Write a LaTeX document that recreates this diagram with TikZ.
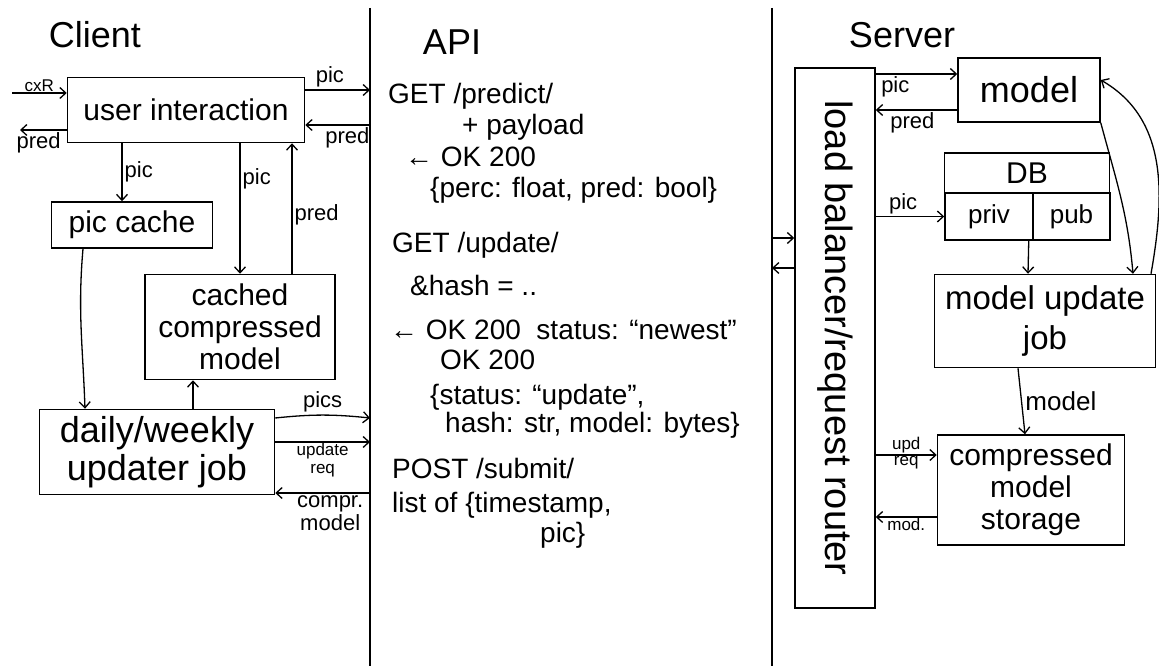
\documentclass[tikz,border=0pt]{standalone}
\usepackage{fontspec}
\setmainfont{Liberation Sans}
\usetikzlibrary{arrows.meta,positioning,calc}

\newcommand{\titlesize}{\fontsize{36}{38}\selectfont}
\newcommand{\boxsize}{\fontsize{30}{32}\selectfont}
\newcommand{\bigboxsize}{\fontsize{36}{38}\selectfont}
\newcommand{\midsize}{\fontsize{26}{28}\selectfont}
\newcommand{\apisize}{\fontsize{28}{30}\selectfont}
\newcommand{\labsize}{\fontsize{22}{23}\selectfont}
\newcommand{\smallsize}{\fontsize{17}{18}\selectfont}

\begin{document}
\begin{tikzpicture}[x=1pt, y=-1pt, >={Straight Barb[length=6pt, width=11pt]}]
    \tikzstyle{block} = [rectangle, draw, line width=1.5pt, align=center, inner sep=2pt, font=\boxsize]
    \tikzstyle{lab} = [font=\labsize, inner sep=2pt]
    \tikzstyle{slab} = [font=\smallsize, inner sep=1pt, align=center]
    \tikzstyle{api} = [anchor=west, font=\apisize, inner sep=0pt]
    \tikzstyle{title} = [font=\titlesize]
    \tikzstyle{flow} = [->, line width=1.3pt]

    \useasboundingbox (0,0) rectangle (1159,666);

    % Dividers
    \coordinate (divA) at (370,8);
    \coordinate (divAend) at (370,666);
    \coordinate (divB) at (772,8);
    \coordinate (divBend) at (772,666);
    \draw[line width=2pt] (divA) -- (divAend);
    \draw[line width=2pt] (divB) -- (divBend);

    % Titles
    \node[title] (client) at (95,35) {Client};
    \node[title] (api) at (452,42) {API};
    \node[title] (server) at (902,35) {Server};

    % Client
    \node[block, minimum width=237pt, minimum height=65pt] (ui) at (186,110) {user interaction};
    \node[block, minimum width=161pt, minimum height=46pt] (cache) at (132,225) {pic cache};
    \node[block, minimum width=190pt, minimum height=105pt] (ccm) at (240,327) {cached\\compressed\\model};
    \node[block, font=\bigboxsize, minimum width=235pt, minimum height=85pt] (updater) at (157,452) {daily/weekly\\updater job};

    \coordinate (cxr) at (12,93);
    \coordinate (predl) at (20,130);
    \coordinate (rpic) at (0,90);
    \coordinate (rpred) at (0,125);
    \coordinate (rpics) at (0,418);
    \coordinate (rupd) at (0,442);
    \coordinate (rcompr) at (0,493);

    \draw[flow] (cxr) -- node[slab, above] {cxR} (cxr -| ui.west);
    \draw[flow] (ui.west |- predl) -- node[lab, below, pos=0.6] {pred} (predl);
    \draw[flow] (ui.east |- rpic) -- node[lab, above, pos=0.38] {pic} (divA |- rpic);
    \draw[flow] (divA |- rpred) -- node[lab, below, pos=0.35] {pred} (ui.east |- rpred);

    \draw[flow] ([xshift=-64pt]ui.south) -- node[lab, right] {pic} ([xshift=-10pt]cache.north);
    \draw[flow] ([xshift=54pt]ui.south) -- node[lab, right, pos=0.27] {pic} (ccm.north);
    \draw[flow] ([xshift=52pt]ccm.north) -- node[lab, right, pos=0.45] {pred} ([xshift=106pt]ui.south);
    \draw[flow] ([xshift=-49pt]cache.south) to[out=-95, in=92] ([xshift=-72pt]updater.north);
    \draw[flow] ([xshift=36pt]updater.north) -- ([xshift=-47pt]ccm.south);

    \draw[flow] (updater.east |- rpics) to[bend left=6] node[lab, above] {pics} (divA |- rpics);
    \draw[flow] (updater.east |- rupd) -- node[slab, below] {update\\req} (divA |- rupd);
    \draw[flow] (divA |- rcompr) -- node[lab, below, align=center, pos=0.42] {compr.\\model} (updater.east |- rcompr);

    % API
    \node[api] (get1) at (388,96) {GET /predict/};
    \node[api] (pay) at (462,127) {+ payload};
    \node[api] (ok1) at (405,157) {← OK 200};
    \node[api] (res1) at (430,190) {\{perc: float, pred: bool\}};
    \node[api] (get2) at (392,245) {GET /update/};
    \node[api] (hash) at (410,285) {\&hash = ..};
    \node[api] (ok2) at (390,330) {← OK 200 \ status: “newest”};
    \node[api] (ok3) at (440,360) {OK 200};
    \node[api] (res2) at (430,397) {\{status: “update”,};
    \node[api] (res3) at (445,425) {hash: str, model: bytes\}};
    \node[api] (post) at (392,468) {POST /submit/};
    \node[api] (list) at (392,505) {list of \{timestamp,};
    \node[api] (pic) at (540,535) {pic\}};

    % Server
    \node[block, minimum width=80pt, minimum height=540pt] (lb) at (835,338) {};
    \node[font=\fontsize{38}{40}\selectfont, rotate=-90] (lbtext) at (lb.center) {load balancer/request router};
    \node[block, font=\bigboxsize, minimum width=142pt, minimum height=64pt] (model) at (1029,90) {model};
    \node[block, minimum width=165pt, minimum height=40pt] (db) at (1027,173) {DB};
    \node[block, font=\midsize, minimum width=88pt, minimum height=47pt] (priv) at (989,216.5) {priv};
    \node[block, font=\midsize, minimum width=77pt, minimum height=47pt] (pub) at (1071.5,216.5) {pub};
    \node[block, font=\fontsize{33}{40}\selectfont, minimum width=221pt, minimum height=93pt] (job) at (1045,321) {model update\\job};
    \node[block, minimum width=187pt, minimum height=110pt] (store) at (1031,490) {compressed\\model\\storage};

    \coordinate (spic) at (0,74);
    \coordinate (spred) at (0,110);
    \coordinate (sin) at (0,238);
    \coordinate (sout) at (0,268);
    \coordinate (supd) at (0,455);
    \coordinate (smod) at (0,517);

    \draw[flow] (divB |- sin) -- (lb.west |- sin);
    \draw[flow] (lb.west |- sout) -- (divB |- sout);
    \draw[flow] (lb.east |- spic) -- node[lab, below, pos=0.24] {pic} (model.west |- spic);
    \draw[flow] (model.west |- spred) -- node[lab, below, pos=0.55] {pred} (lb.east |- spred);
    \draw[flow] (lb.east |- priv.west) -- node[lab, above, pos=0.4] {pic} (priv.west);
    \draw[flow] ([xshift=-5pt]priv.south east) -- ([xshift=-17pt]job.north);
    \draw[flow] (model.south east) to[out=-75, in=95] ([xshift=88pt]job.north);
    \draw[flow] ([xshift=106pt]job.north) to[out=80, in=-30] ([yshift=10pt]model.east);
    \draw[flow] ([xshift=-27pt]job.south) -- node[font=\midsize, right] {model} ([xshift=-6pt]store.north);
    \draw[flow] (lb.east |- supd) -- node[slab, above] {upd} node[slab, below] {req} (store.west |- supd);
    \draw[flow] (store.west |- smod) -- node[slab, below] {mod.} (lb.east |- smod);
\end{tikzpicture}
\end{document}
